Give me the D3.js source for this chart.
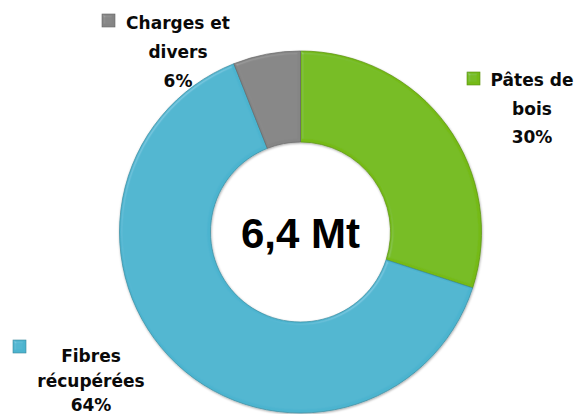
<!DOCTYPE html>
<html>
<head>
    <meta charset="utf-8">
    <title></title>
    <script src="https://d3js.org/d3.v7.min.js"></script>
    <style>
        body { margin: 0; background: #fff; }
        svg { display: block; }
        .lbl { font-family: "DejaVu Sans", sans-serif; font-weight: bold; font-size: 17px; fill: #0a0a0a; }
        .center { font-family: "Liberation Sans", Arial, sans-serif; font-weight: bold; font-size: 42px; fill: #000; }
    </style>
</head>
<body>
<svg id="chart"></svg>
<script>
    var width = 576, height = 414;

    // data
    var categories = ["Pâtes de bois", "Fibres récupérées", "Charges et divers"];
    var shares = [30, 64, 6];
    var labelLines = [["Pâtes de", "bois"], ["Fibres", "récupérées"], ["Charges et", "divers"]];
    var colors = ["#74ba15", "#4cb4cf", "#858585"];
    var totalLabel = "6,4 Mt";

    var cx = 300.5, cy = 232, outerR = 181, innerR = 90;

    var svg = d3.select("#chart").attr("width", width).attr("height", height);

    var defs = svg.append("defs");
    var f = defs.append("filter").attr("id", "bevel").attr("x", "-10%").attr("y", "-10%").attr("width", "120%").attr("height", "120%");
    f.append("feGaussianBlur").attr("in", "SourceAlpha").attr("stdDeviation", 1.4).attr("result", "blur");
    f.append("feSpecularLighting").attr("in", "blur").attr("surfaceScale", 2.5).attr("specularConstant", 0.5)
        .attr("specularExponent", 22).attr("lighting-color", "#ffffff").attr("result", "spec")
        .append("feDistantLight").attr("azimuth", 225).attr("elevation", 40);
    f.append("feComposite").attr("in", "spec").attr("in2", "SourceAlpha").attr("operator", "in").attr("result", "specIn");
    f.append("feComposite").attr("in", "SourceGraphic").attr("in2", "specIn").attr("operator", "arithmetic")
        .attr("k1", 0).attr("k2", 1).attr("k3", 0.22).attr("k4", 0);

    var shadow = defs.append("filter").attr("id", "shadow").attr("x", "-10%").attr("y", "-10%").attr("width", "120%").attr("height", "120%");
    shadow.append("feDropShadow").attr("dx", 0.5).attr("dy", 1).attr("stdDeviation", 1.2).attr("flood-color", "#000").attr("flood-opacity", 0.35);

    var pie = d3.pie().sort(null).value(function(d) { return d; });
    var arc = d3.arc().innerRadius(innerR).outerRadius(outerR);
    var arcs = pie(shares);

    var g = svg.append("g").attr("transform", "translate(" + cx + "," + cy + ")").attr("filter", "url(#shadow)");

    g.selectAll("path")
        .data(arcs)
        .enter()
        .append("path")
        .attr("d", arc)
        .attr("fill", function(d, i) { return colors[i]; })
        .attr("stroke", function(d, i) { return d3.color(colors[i]).darker(0.7); })
        .attr("stroke-width", 0.7)
        .attr("filter", "url(#bevel)");

    svg.append("text")
        .attr("class", "center")
        .attr("x", cx)
        .attr("y", 248)
        .attr("text-anchor", "middle")
        .text(totalLabel);

    // label layout: text centre x, first baseline, line spacing, key square x/y
    var labelPos = [
        { x: 532, y: 86, lh: 28.5, kx: 467, ky: 72 },
        { x: 91, y: 362, lh: 24.5, kx: 13, ky: 340 },
        { x: 178, y: 29, lh: 29, kx: 102, ky: 14 }
    ];

    arcs.forEach(function(a, i) {
        var p = labelPos[i];
        var lines = labelLines[i].concat([shares[i] + "%"]);
        var t = svg.append("text").attr("class", "lbl").attr("text-anchor", "middle");
        lines.forEach(function(s, j) {
            t.append("tspan").attr("x", p.x).attr("y", p.y + j * p.lh).text(s);
        });
        svg.append("rect")
            .attr("x", p.kx).attr("y", p.ky).attr("width", 13).attr("height", 13)
            .attr("fill", colors[i])
            .attr("stroke", d3.color(colors[i]).darker(0.8))
            .attr("stroke-width", 0.6)
            .attr("filter", "url(#bevel)");
    });
</script>
</body>
</html>
